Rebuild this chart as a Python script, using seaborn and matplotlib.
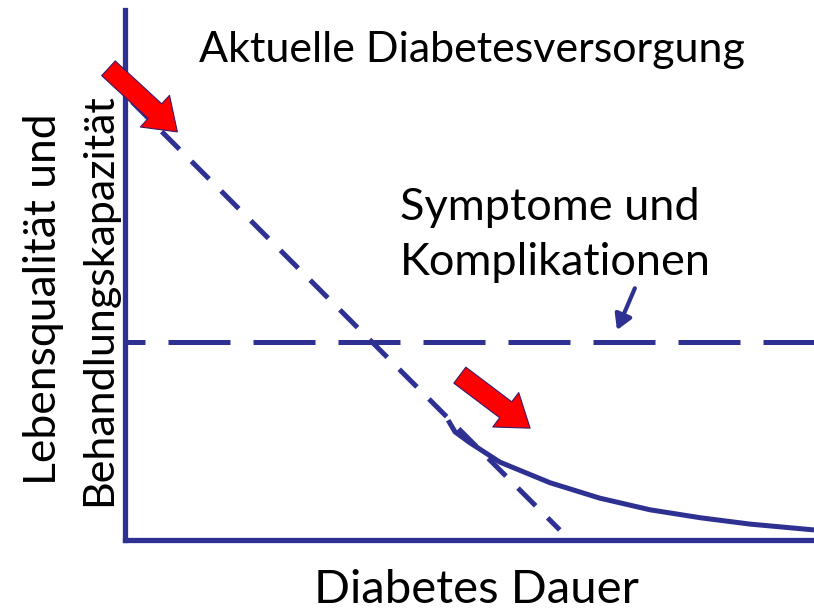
import matplotlib
matplotlib.use("Agg")
import matplotlib.pyplot as plt
import seaborn as sns
import pandas as pd

# Data (arbitrary units 0..100)
diag_x = [0, 63.1]
diag_y = [84, 1.9]
horiz_x = [0, 100]
horiz_y = [37.4, 37.4]
curve_x = [46.9, 47.9, 50.0, 54.4, 61.7, 68.9, 76.2, 83.5, 90.7, 100]
curve_y = [22.6, 20.4, 18.4, 14.7, 10.8, 7.9, 5.7, 4.2, 3.0, 1.9]

title_text = "Aktuelle Diabetesversorgung"
annot_line1 = "Symptome und"
annot_line2 = "Komplikationen"
xlabel_text = "Diabetes Dauer"
ylabel_line1 = "Lebensqualität und"
ylabel_line2 = "Behandlungskapazität"

BLUE = "#2E3192"
RED = "#FF0000"

sns.set_style("white")
plt.rcParams['font.family'] = ['Lato', 'DejaVu Sans']
plt.rcParams['text.color'] = 'black'

W, H = 814, 612
fig = plt.figure(figsize=(8.14, 6.12), dpi=100)
ax = fig.add_axes([125/W, 1 - 540/H, 689/W, 530/H])
ax.set_xlim(0, 100)
ax.set_ylim(0, 100)

df_d = pd.DataFrame({"x": diag_x, "y": diag_y})
df_h = pd.DataFrame({"x": horiz_x, "y": horiz_y})
df_c = pd.DataFrame({"x": curve_x, "y": curve_y})

LW = 3.6
sns.lineplot(data=df_d, x="x", y="y", ax=ax, color=BLUE, lw=LW,
             linestyle=(6.4, (5, 3.4)), sort=False)
sns.lineplot(data=df_h, x="x", y="y", ax=ax, color=BLUE, lw=LW,
             linestyle=(8.4, (12.4, 4.6)), sort=False)
sns.lineplot(data=df_c, x="x", y="y", ax=ax, color=BLUE, lw=LW, sort=False)

for line in ax.lines:
    line.set_solid_capstyle("butt")
    line.set_dash_capstyle("butt")

# red arrows
for (x0, y0, x1, y1) in [(-2.4, 89.0, 7.6, 77.0), (48.6, 31.1, 58.8, 21.1)]:
    ax.annotate("", xy=(x1, y1), xytext=(x0, y0),
                arrowprops=dict(arrowstyle="simple,head_length=1.1,head_width=1.55,tail_width=0.72",
                                fc=RED, ec="#3a1a6a", lw=0.8, shrinkA=0, shrinkB=0,
                                mutation_scale=20),
                annotation_clip=False, zorder=5)

# small blue arrow
ax.annotate("", xy=(71.4, 39.6), xytext=(74.0, 47.5),
            arrowprops=dict(arrowstyle="-|>,head_length=0.6,head_width=0.35",
                            color=BLUE, lw=3, shrinkA=0, shrinkB=0,
                            mutation_scale=15))

def ft(x, y, s, **kw):
    fig.text(x / W, 1 - y / H, s, color="black", **kw)

ft(472, 62, title_text, ha="center", va="baseline", fontsize=31)
ft(400, 220, annot_line1, ha="left", va="baseline", fontsize=32.5)
ft(400, 275, annot_line2, ha="left", va="baseline", fontsize=32.5)
ft(476, 603, xlabel_text, ha="center", va="baseline", fontsize=34)
ft(44, 299, ylabel_line1, ha="center", va="center", fontsize=32, rotation=90)
ft(99, 300, ylabel_line2, ha="center", va="center", fontsize=31, rotation=90)

ax.set_xlabel("")
ax.set_ylabel("")
ax.set_xticks([])
ax.set_yticks([])
for s in ["top", "right"]:
    ax.spines[s].set_visible(False)
for s in ["left", "bottom"]:
    ax.spines[s].set_color(BLUE)
    ax.spines[s].set_linewidth(3.8)

fig.savefig("out.png", dpi=100)
